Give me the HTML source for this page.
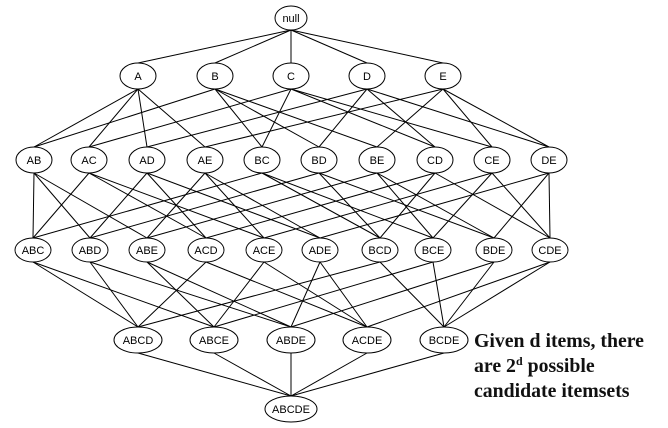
<!DOCTYPE html>
<html><head><style>
body{margin:0;background:#fff;}
svg{display:block}
</style></head><body>
<svg width="668" height="428" xmlns="http://www.w3.org/2000/svg" id="s">
<g id="edges" stroke="#000" stroke-width="1"></g>
<g id="nodes" fill="#fff" stroke="#000" stroke-width="1" font-family="Liberation Sans, sans-serif" font-size="11"></g>
<text font-family="Liberation Serif, serif" font-weight="bold" font-size="19.8" fill="#111">
<tspan x="474" y="347">Given d items, there</tspan>
<tspan x="474" y="372">are 2<tspan font-size="12" dy="-7">d</tspan><tspan dy="7"> possible</tspan></tspan>
<tspan x="474" y="397">candidate itemsets</tspan>
</text>
</svg>
<script>
var L=[
 {y:18,ry:12,rx:16,n:[["null",291]]},
 {y:76,ry:13,rx:18,n:[["A",138],["B",215],["C",291],["D",367],["E",443]]},
 {y:160,ry:13,rx:18,n:[["AB",34],["AC",89],["AD",147],["AE",205],["BC",262],["BD",319],["BE",377],["CD",435],["CE",492],["DE",549]]},
 {y:250,ry:12,rx:18,n:[["ABC",33],["ABD",90],["ABE",147],["ACD",206],["ACE",264],["ADE",320],["BCD",380],["BCE",433],["BDE",494],["CDE",550]]},
 {y:340,ry:13,rx:24,n:[["ABCD",138],["ABCE",214],["ABDE",291],["ACDE",367],["BCDE",444]]},
 {y:409,ry:13,rx:26,n:[["ABCDE",291]]}
];
var ns="http://www.w3.org/2000/svg",E=document.getElementById("edges"),N=document.getElementById("nodes");
function sub(a,b){if(a=="null")return true;for(var c of a)if(b.indexOf(c)<0)return false;return true;}
for(var i=0;i<L.length-1;i++){var P=L[i],C=L[i+1];
 for(var p of P.n)for(var c of C.n)if(sub(p[0],c[0])){
  var l=document.createElementNS(ns,"line");
  l.setAttribute("x1",p[1]);l.setAttribute("y1",P.y+P.ry);
  l.setAttribute("x2",c[1]);l.setAttribute("y2",C.y-C.ry);E.appendChild(l);}}
for(var lv of L)for(var n of lv.n){
 var e=document.createElementNS(ns,"ellipse");
 e.setAttribute("cx",n[1]);e.setAttribute("cy",lv.y);e.setAttribute("rx",lv.rx);e.setAttribute("ry",lv.ry);N.appendChild(e);
 var t=document.createElementNS(ns,"text");t.setAttribute("x",n[1]);t.setAttribute("y",lv.y+4);
 t.setAttribute("text-anchor","middle");t.setAttribute("fill","#000");t.setAttribute("stroke","none");
 t.textContent=n[0];N.appendChild(t);}
</script>
</body></html>
